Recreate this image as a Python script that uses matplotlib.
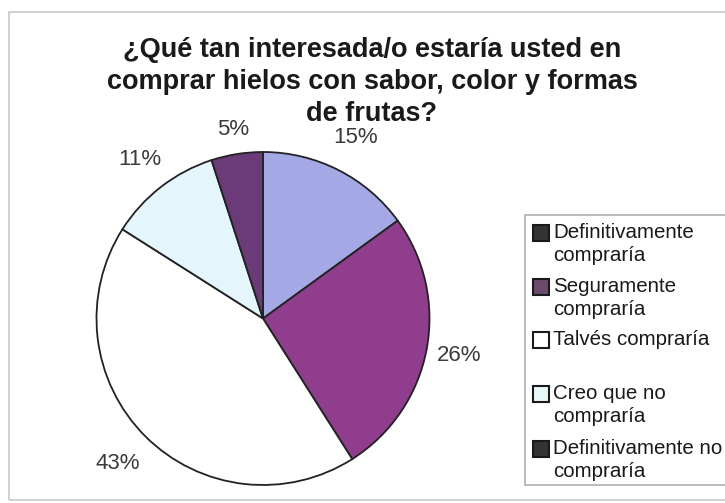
import matplotlib
matplotlib.use("Agg")
import matplotlib.pyplot as plt
from matplotlib.patches import Rectangle
import numpy as np

plt.rcParams['font.family'] = ['Liberation Sans', 'DejaVu Sans']

# survey answers, clockwise from 12 o'clock
shares = [15, 26, 43, 11, 5]
pct_labels = ["15%", "26%", "43%", "11%", "5%"]
slice_colors = ["#a4a9e6", "#8f3d8c", "#ffffff", "#e4f6fb", "#6b3a78"]
# how far out each percentage sits (in pie radii)
label_dist = [1.22, 1.20, 1.23, 1.21, 1.15]

legend_labels = [
    "Definitivamente\ncompraría",
    "Seguramente\ncompraría",
    "Talvés compraría",
    "Creo que no\ncompraría",
    "Definitivamente no\ncompraría",
]
legend_colors = ["#333333", "#6b4a6b", "#ffffff", "#e8f8f8", "#333333"]

title_lines = [
    "¿Qué tan interesada/o estaría usted en",
    "comprar hielos con sabor, color y formas",
    "de frutas?",
]

W, H = 725, 503
fig = plt.figure(figsize=(W / 100, H / 100), dpi=100)


def fx(px):
    return px / W


def fy(py):
    return 1 - py / H


# chart frame
fig.patches.append(Rectangle((fx(9), fy(500)), fx(730) - fx(9), fy(12) - fy(500),
                             transform=fig.transFigure, fill=False,
                             edgecolor="#c8c8c8", linewidth=1.2))

# pie
cx, cy, r = 263, 318.5, 166.5
ax = fig.add_axes([fx(cx - r), fy(cy + r), 2 * r / W, 2 * r / H])
wedges, texts = ax.pie(shares, labels=pct_labels, colors=slice_colors,
                       startangle=90, counterclock=False,
                       wedgeprops=dict(edgecolor="#222222", linewidth=1.3),
                       textprops=dict(fontsize=16, color="#3a3a3a"))
for w, t, d in zip(wedges, texts, label_dist):
    mid = np.deg2rad((w.theta1 + w.theta2) / 2)
    t.set_position((d * np.cos(mid), d * np.sin(mid)))
    t.set_ha("center")
    t.set_va("center")
ax.set_xlim(-1, 1)
ax.set_ylim(-1, 1)
ax.set_aspect("auto")
ax.axis("off")

# title, one line at a time
for line, base in zip(title_lines, [57, 89, 121]):
    fig.text(fx(372), fy(base), line, ha="center", va="baseline", fontsize=19.5,
             fontweight="bold", color="#1a1a1a")

# legend box
fig.patches.append(Rectangle((fx(525), fy(485)), fx(740) - fx(525), fy(215) - fy(485),
                             transform=fig.transFigure, facecolor="white",
                             edgecolor="#b0b0b0", linewidth=1.2))
row_y = [233, 287, 340, 394, 449]
for lab, col, y in zip(legend_labels, legend_colors, row_y):
    fig.patches.append(Rectangle((fx(533), fy(y + 8)), fx(549) - fx(533), fy(y - 8) - fy(y + 8),
                                 transform=fig.transFigure, facecolor=col,
                                 edgecolor="#1a1a1a", linewidth=1.5))
    fig.text(fx(553), fy(y - 10), lab, ha="left", va="top", fontsize=14.8,
             color="#1a1a1a", linespacing=1.25)

fig.savefig("out.png", dpi=100, facecolor="white")
